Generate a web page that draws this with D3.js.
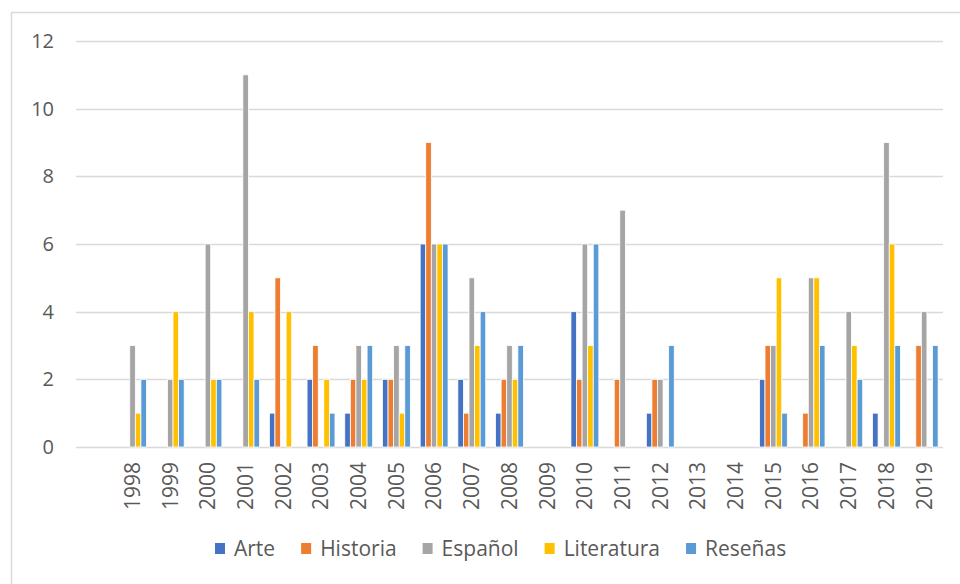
<!DOCTYPE html>
<html>
<head>
<meta charset="utf-8">
<script src="https://cdn.jsdelivr.net/npm/d3@7"></script>
<style>
  body { margin: 0; background: #fff; }
  text { font-family: "Open Sans", sans-serif; fill: #595959; }
</style>
</head>
<body>
<div id="root"></div>
<script>
const width = 960
const height = 584

// first category is an empty slot, like in the original sheet
const years = ['', '1998', '1999', '2000', '2001', '2002', '2003', '2004', '2005', '2006', '2007', '2008',
  '2009', '2010', '2011', '2012', '2013', '2014', '2015', '2016', '2017', '2018', '2019']
const seriesNames = ['Arte', 'Historia', 'Español', 'Literatura', 'Reseñas']
const colors = ['#4472C4', '#ED7D31', '#A5A5A5', '#FFC000', '#5B9BD5']

const arte       = [0, 0, 0, 0, 0, 1, 2, 1, 2, 6, 2, 1, 0, 4, 0, 1, 0, 0, 2, 0, 0, 1, 0]
const historia   = [0, 0, 0, 0, 0, 5, 3, 2, 2, 9, 1, 2, 0, 2, 2, 2, 0, 0, 3, 1, 0, 0, 3]
const espanol    = [0, 3, 2, 6, 11, 0, 0, 3, 3, 6, 5, 3, 0, 6, 7, 2, 0, 0, 3, 5, 4, 9, 4]
const literatura = [0, 1, 4, 2, 4, 4, 2, 2, 1, 6, 3, 2, 0, 3, 0, 0, 0, 0, 5, 5, 3, 6, 0]
const resenas    = [0, 2, 2, 2, 2, 0, 1, 3, 3, 6, 4, 3, 0, 6, 0, 3, 0, 0, 1, 3, 2, 3, 3]

const yTicks = [0, 2, 4, 6, 8, 10, 12]

const allSeries = [arte, historia, espanol, literatura, resenas]

const margin = { left: 76, right: 17, top: 41, bottom: 137 }

const svg = d3.select('#root').append('svg')
  .attr('width', width)
  .attr('height', height)

// outer chart border
svg.append('rect')
  .attr('x', 11.5)
  .attr('y', 12.5)
  .attr('width', 1000)
  .attr('height', 1000)
  .attr('fill', 'none')
  .attr('stroke', '#D9D9D9')
  .attr('stroke-width', 1.5)

const x0 = d3.scaleBand()
  .domain(years)
  .range([margin.left, width - margin.right])
  .paddingInner(0.26)
  .paddingOuter(0.13)

const x1 = d3.scaleBand()
  .domain(seriesNames)
  .range([0, x0.bandwidth()])

const y = d3.scaleLinear()
  .domain([0, 12])
  .range([height - margin.bottom, margin.top])

// gridlines
svg.append('g')
  .selectAll('line')
  .data(yTicks)
  .enter().append('line')
    .attr('x1', margin.left)
    .attr('x2', width - margin.right)
    .attr('y1', d => Math.round(y(d)) + 0.5)
    .attr('y2', d => Math.round(y(d)) + 0.5)
    .attr('stroke', '#D9D9D9')
    .attr('stroke-width', 1.5)

// y labels
svg.append('g')
  .selectAll('text')
  .data(yTicks)
  .enter().append('text')
    .attr('x', 54)
    .attr('y', d => y(d))
    .attr('dy', '0.35em')
    .attr('text-anchor', 'end')
    .style('font-size', '20px')
    .text(d => d)

// bars
const groups = svg.append('g')
  .selectAll('g')
  .data(years)
  .enter().append('g')
    .attr('transform', d => `translate(${x0(d)},0)`)

groups.selectAll('rect')
  .data((d, i) => seriesNames.map((s, j) => ({ key: s, value: allSeries[j][i], color: colors[j] })))
  .enter().append('rect')
    .filter(d => d.value > 0)
    .attr('x', d => x1(d.key))
    .attr('y', d => y(d.value))
    .attr('width', x1.bandwidth())
    .attr('height', d => y(0) - y(d.value))
    .attr('fill', d => d.color)
    .attr('stroke', '#fff')
    .attr('stroke-width', 0.8)

// x labels, rotated
svg.append('g')
  .selectAll('text')
  .data(years.filter(d => d !== ''))
  .enter().append('text')
    .attr('transform', d => `translate(${x0(d) + x0.bandwidth() / 2},462) rotate(-90)`)
    .attr('dy', '0.35em')
    .attr('text-anchor', 'end')
    .style('font-size', '21px')
    .text(d => d)

// legend
const legend = svg.append('g')
let lx = 215
seriesNames.forEach((s, i) => {
  legend.append('rect')
    .attr('x', lx)
    .attr('y', 543)
    .attr('width', 10)
    .attr('height', 11)
    .attr('fill', colors[i])
  const t = legend.append('text')
    .attr('x', lx + 19)
    .attr('y', 549)
    .attr('dy', '0.35em')
    .style('font-size', '21px')
    .text(s)
  lx += 19 + t.node().getComputedTextLength() + 26
})
</script>
</body>
</html>
